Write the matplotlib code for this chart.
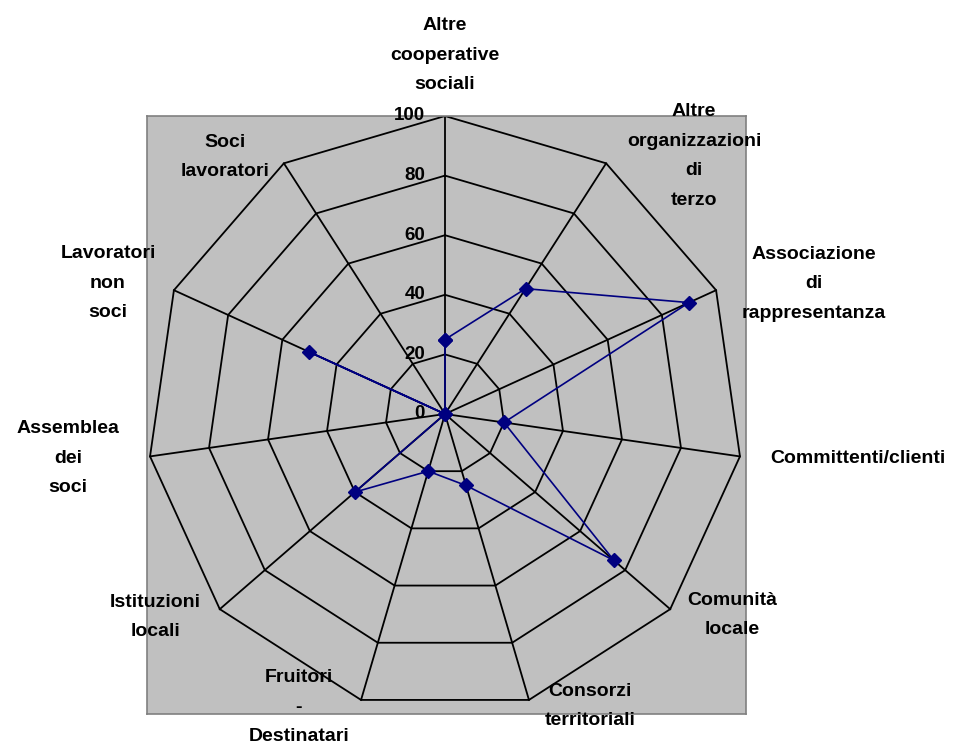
import numpy as np
import matplotlib
matplotlib.use("Agg")
import matplotlib.pyplot as plt

categories = ["Altre\ncooperative\nsociali", "Altre\norganizzazioni\ndi\nterzo",
              "Associazione\ndi\nrappresentanza", "Committenti/clienti",
              "Comunità\nlocale", "Consorzi\nterritoriali", "Fruitori\n-\nDestinatari",
              "Istituzioni\nlocali", "Assemblea\ndei\nsoci", "Lavoratori\nnon\nsoci",
              "Soci\nlavoratori"]
values = [25, 50, 90, 20, 75, 25, 20, 40, 0, 50, 0]
ticks = [0, 20, 40, 60, 80, 100]

# label centres in pixels (x, y from top)
label_pos = [(445, 55), (694, 156), (814, 284), (858, 458), (732, 615), (590, 706),
             (299, 707), (155, 617), (68, 458), (108, 283), (225, 157)]

W, H = 965, 745
fig = plt.figure(figsize=(W / 100, H / 100), dpi=100)
# plot area 147..746 px wide, 116..714 px tall, centre (445, 414), r100 = 298 px
s = 2.98
ax = fig.add_axes([147 / W, 1 - 714 / H, (746 - 147) / W, (714 - 116) / H])
ax.set_xlim((147 - 445) / s, (746 - 445) / s)
ax.set_ylim(-(714 - 414) / s, (414 - 116) / s)
ax.set_facecolor("#c0c0c0")
for sp in ax.spines.values():
    sp.set_color("#808080")
    sp.set_linewidth(1.2)
ax.set_xticks([])
ax.set_yticks([])

n = len(categories)
ang = np.arange(n) * 2 * np.pi / n
sx, sy = np.sin(ang), np.cos(ang)

# polygon grid
for t in ticks[1:]:
    ax.plot(np.append(sx, sx[0]) * t, np.append(sy, sy[0]) * t, color="black", lw=1.3)
for i in range(n):
    ax.plot([0, sx[i] * 100], [0, sy[i] * 100], color="black", lw=1.3)

# series
v = np.array(values, dtype=float)
ax.plot(np.append(sx * v, sx[0] * v[0]), np.append(sy * v, sy[0] * v[0]),
        color="#000080", lw=1.2, marker="D", markersize=7, clip_on=False)

# radial tick labels
for t in ticks:
    ax.text(-20 / s, t, str(t), ha="right", va="center", fontsize=13.5,
            fontweight="bold", family="Liberation Sans")

for lab, (px, py) in zip(categories, label_pos):
    fig.text(px / W, 1 - py / H, lab, ha="center", va="center", fontsize=14,
             fontweight="bold", family="Liberation Sans", linespacing=1.98)

fig.savefig("out.png", dpi=100)
